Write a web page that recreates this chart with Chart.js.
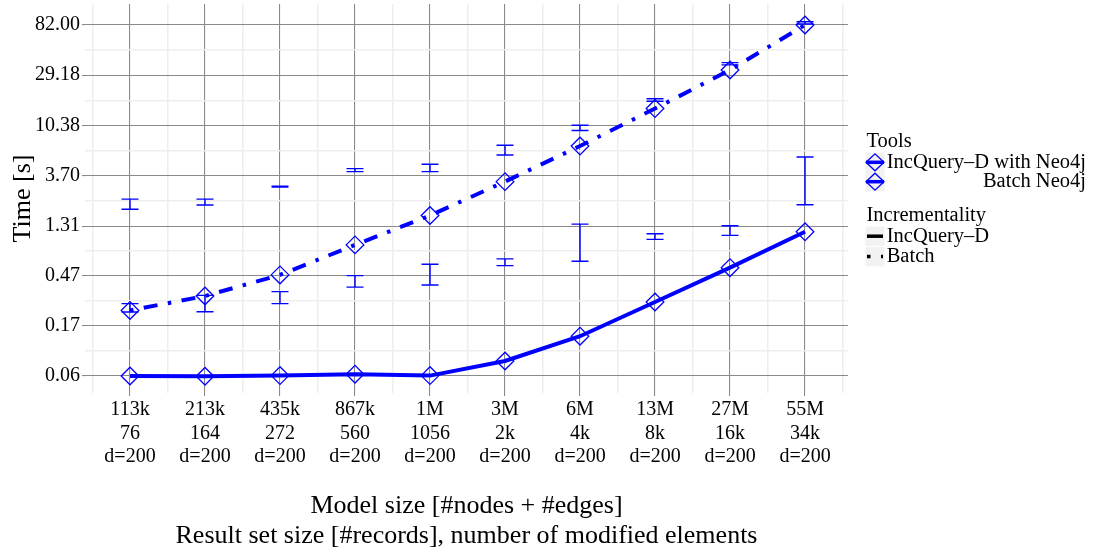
<!DOCTYPE html>
<html>
<head>
<meta charset="utf-8">
<script src="https://cdn.jsdelivr.net/npm/chart.js@4/dist/chart.umd.min.js"></script>
<style>
html,body{margin:0;padding:0;background:#fff;}
#wrap{position:relative;width:1093px;height:551px;}
</style>
</head>
<body>
<div id="wrap"><canvas id="c" width="1093" height="551"></canvas></div>
<script>
// ---- data ----
const modelSizes = ['113k','213k','435k','867k','1M','3M','6M','13M','27M','55M'];
const resultSizes = ['76','164','272','560','1056','2k','4k','8k','16k','34k'];
const modifiedCounts = ['d=200','d=200','d=200','d=200','d=200','d=200','d=200','d=200','d=200','d=200'];

const incqueryTimes = [0.060, 0.0597, 0.0605, 0.0623, 0.0605, 0.0817, 0.136, 0.275, 0.557, 1.165];
const batchTimes    = [0.231, 0.311, 0.48, 0.89, 1.63, 3.27, 6.8, 14.7, 32.5, 82.0];

// upper set of error bars
const errUpperLow  = [1.85, 2.02, 2.92, 4.02, 4.02, 5.66, 9.37, 17.1, 36.1, 83.7];
const errUpperHigh = [2.28, 2.28, 2.98, 4.27, 4.68, 6.92, 10.44, 18.0, 37.8, 87.8];
// lower set of error bars
const errLowerLow  = [0.224, 0.225, 0.266, 0.373, 0.39, 0.581, 0.636, 0.996, 1.082, 2.03];
const errLowerHigh = [0.266, 0.315, 0.34, 0.473, 0.598, 0.667, 1.365, 1.118, 1.318, 5.43];

const yTickValues = [0.06, 0.17, 0.47, 1.31, 3.70, 10.38, 29.18, 82.00];
const yTickLabels = ['0.06','0.17','0.47','1.31','3.70','10.38','29.18','82.00'];

const yTitle = 'Time [s]';
const xTitle = ['Model size [#nodes + #edges]', 'Result set size [#records], number of modified elements'];
const legendToolsTitle = 'Tools';
const legendTools = ['IncQuery\u2013D with Neo4j', 'Batch Neo4j'];
const legendIncrTitle = 'Incrementality';
const legendIncr = ['IncQuery\u2013D', 'Batch'];

// ---- styling ----
const FONT = '"Liberation Serif", "Times New Roman", serif';
const BLUE = '#0000ff';
const MAJOR = '#8a8a8a';
const MINOR = '#eeeeee';
const DOTDASH = [3.5, 10.5, 14, 10.5];

const xTickPos = Array.from({length: 21}, (_, k) => k / 2 - 0.5);
const yTickPos = [];
yTickValues.forEach((v, i) => {
  yTickPos.push(v);
  if (i < yTickValues.length - 1) yTickPos.push(Math.sqrt(v * yTickValues[i + 1]));
});

const errorBarPlugin = {
  id: 'errorBars',
  afterDatasetsDraw(chart) {
    const {ctx, scales: {x, y}} = chart;
    ctx.save();
    ctx.strokeStyle = BLUE;
    ctx.lineWidth = 1.4;
    const half = 8.5;
    [[errUpperLow, errUpperHigh], [errLowerLow, errLowerHigh]].forEach(([lo, hi]) => {
      lo.forEach((l, i) => {
        const px = x.getPixelForValue(i);
        const y1 = y.getPixelForValue(l);
        const y2 = y.getPixelForValue(hi[i]);
        ctx.beginPath();
        ctx.moveTo(px, y1); ctx.lineTo(px, y2);
        ctx.moveTo(px - half, y1); ctx.lineTo(px + half, y1);
        ctx.moveTo(px - half, y2); ctx.lineTo(px + half, y2);
        ctx.stroke();
      });
    });
    ctx.restore();
  }
};

const legendPlugin = {
  id: 'customLegend',
  afterDraw(chart) {
    const ctx = chart.ctx;
    ctx.save();
    ctx.font = '20.5px ' + FONT;
    ctx.textBaseline = 'alphabetic';
    const keyL = 865.5, keyW = 19, keyH = 19.4;
    const textL = 886.7;
    // Tools
    ctx.fillStyle = '#000';
    ctx.textAlign = 'left';
    ctx.fillText(legendToolsTitle, 866.5, 146.7);
    const toolRows = [162.3, 181.7];
    const toolRight = textL + Math.max(...legendTools.map(t => ctx.measureText(t).width));
    toolRows.forEach((cy, i) => {
      ctx.fillStyle = '#f2f2f2';
      ctx.fillRect(keyL, cy - keyH / 2, keyW, keyH);
      ctx.strokeStyle = BLUE;
      ctx.setLineDash([]);
      ctx.lineWidth = 3.5;
      ctx.beginPath(); ctx.moveTo(keyL + 0.5, cy); ctx.lineTo(keyL + keyW - 0.5, cy); ctx.stroke();
      ctx.lineWidth = 1.3;
      const cx = keyL + keyW / 2;
      ctx.beginPath();
      ctx.moveTo(cx - 9, cy); ctx.lineTo(cx, cy - 8.5); ctx.lineTo(cx + 9, cy); ctx.lineTo(cx, cy + 8.5);
      ctx.closePath(); ctx.stroke();
      ctx.fillStyle = '#000';
      ctx.textAlign = 'right';
      ctx.fillText(legendTools[i], toolRight, cy + 5.2);
    });
    // Incrementality
    ctx.textAlign = 'left';
    ctx.fillStyle = '#000';
    ctx.fillText(legendIncrTitle, 866.5, 220.7);
    const incrRows = [236.2, 256.6];
    incrRows.forEach((cy, i) => {
      ctx.fillStyle = '#f2f2f2';
      ctx.fillRect(keyL, cy - keyH / 2, keyW, keyH);
      ctx.strokeStyle = '#000';
      ctx.lineWidth = 3.5;
      ctx.setLineDash(i === 0 ? [] : DOTDASH);
      ctx.beginPath(); ctx.moveTo(keyL + 1.5, cy); ctx.lineTo(keyL + keyW - 1.5, cy); ctx.stroke();
      ctx.setLineDash([]);
      ctx.fillStyle = '#000';
      ctx.textAlign = 'left';
      ctx.fillText(legendIncr[i], textL, cy + 5.3);
    });
    ctx.restore();
  }
};

const pointOpts = {
  pointStyle: 'rectRot',
  pointRadius: 8.8,
  pointHoverRadius: 8.8,
  pointBorderWidth: 1.3,
  pointBorderColor: BLUE,
  pointBackgroundColor: 'rgba(0,0,0,0)'
};

new Chart(document.getElementById('c'), {
  type: 'line',
  data: {
    datasets: [
      Object.assign({
        label: legendIncr[0],
        data: incqueryTimes.map((v, i) => ({x: i, y: v})),
        borderColor: BLUE,
        borderWidth: 4,
        tension: 0,
        fill: false
      }, pointOpts),
      Object.assign({
        label: legendIncr[1],
        data: batchTimes.map((v, i) => ({x: i, y: v})),
        borderColor: BLUE,
        borderWidth: 4,
        borderDash: DOTDASH,
        tension: 0,
        fill: false
      }, pointOpts)
    ]
  },
  options: {
    responsive: false,
    animation: false,
    events: [],
    layout: {autoPadding: false, padding: {left: 0, right: 245, top: 4, bottom: 0}},
    plugins: {legend: {display: false}, tooltip: {enabled: false}},
    scales: {
      x: {
        type: 'linear',
        min: -0.6,
        max: 9.573,
        afterBuildTicks: s => { s.ticks = xTickPos.map(v => ({value: v})); },
        afterFit: s => { s.height = 158; s.paddingLeft = 0; s.paddingRight = 0; },
        border: {display: false},
        grid: {
          color: c => (c.index % 2 === 1 ? MAJOR : MINOR),
          lineWidth: c => (c.index % 2 === 1 ? 1.1 : 1.5),
          tickColor: c => (c.index % 2 === 1 ? MAJOR : 'rgba(0,0,0,0)'),
          tickLength: 3
        },
        ticks: {
          autoSkip: false,
          maxRotation: 0,
          minRotation: 0,
          padding: 2,
          color: '#000',
          font: {family: FONT, size: 20, lineHeight: 1.18},
          callback: (v) => (Number.isInteger(v) ? [modelSizes[v], resultSizes[v], modifiedCounts[v]] : '')
        },
        title: {
          display: true,
          text: xTitle,
          color: '#000',
          font: {family: FONT, size: 26, lineHeight: 1.15},
          padding: {top: 0, bottom: 0}
        }
      },
      y: {
        type: 'logarithmic',
        min: 0.04229,
        max: 126.3,
        afterBuildTicks: s => { s.ticks = yTickPos.map(v => ({value: v})); },
        afterFit: s => { s.width = 85; s.paddingTop = 0; s.paddingBottom = 0; },
        border: {display: false},
        grid: {
          color: c => (c.index % 2 === 0 ? MAJOR : MINOR),
          lineWidth: c => (c.index % 2 === 0 ? 1.1 : 1.5),
          tickColor: c => (c.index % 2 === 0 ? MAJOR : 'rgba(0,0,0,0)'),
          tickLength: 3
        },
        ticks: {
          autoSkip: false,
          padding: 2,
          color: '#000',
          font: {family: FONT, size: 20},
          callback: (v, i) => (i % 2 === 0 ? yTickLabels[i / 2] : '')
        },
        title: {
          display: true,
          text: yTitle,
          color: '#000',
          font: {family: FONT, size: 26, lineHeight: 1.2},
          padding: {top: 8, bottom: 0}
        }
      }
    }
  },
  plugins: [errorBarPlugin, legendPlugin]
});
</script>
</body>
</html>
